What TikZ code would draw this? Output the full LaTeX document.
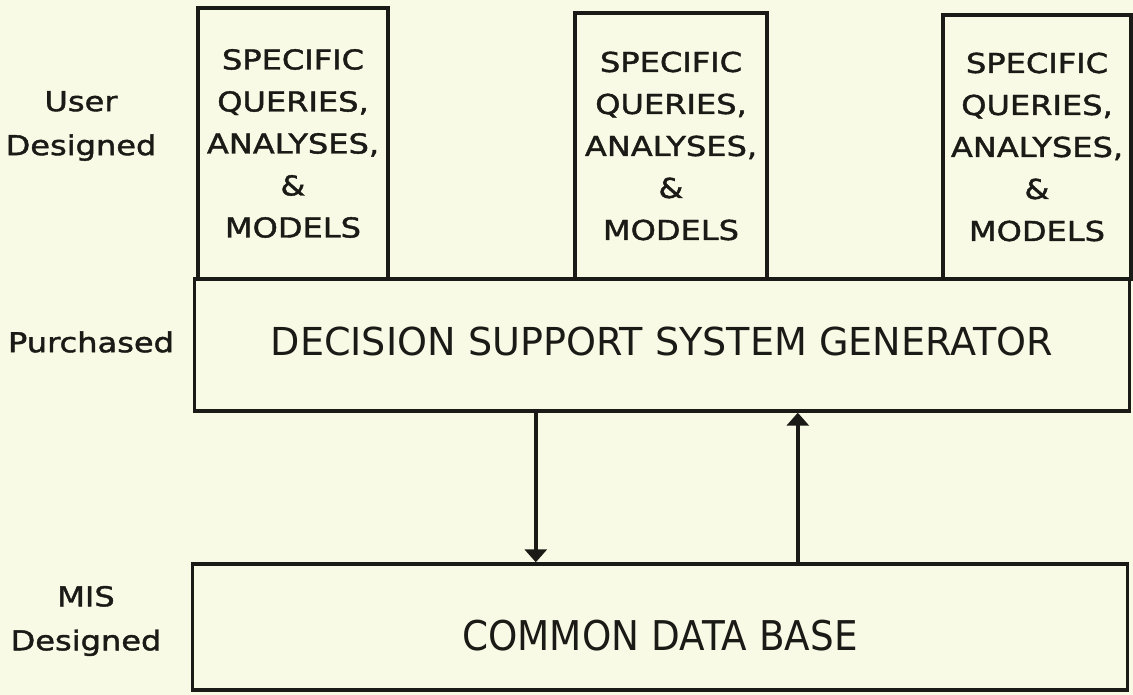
\documentclass[tikz,border=0pt]{standalone}
\usepackage{fontspec}
\usetikzlibrary{arrows.meta}
\newfontfamily\labelfont[FakeStretch=1.17,FakeBold=1.5]{DejaVu Sans}
\newfontfamily\dssfont[FakeStretch=0.99]{DejaVu Sans}
\newfontfamily\cdbfont[FakeStretch=0.91]{DejaVu Sans}
\definecolor{paper}{RGB}{249,250,229}
\definecolor{ink}{RGB}{26,26,22}
\begin{document}
\begin{tikzpicture}[x=1pt,y=-1pt,
  line width=3.4pt, draw=ink,
  small/.style={text=ink, font=\labelfont\fontsize{27.4}{44}\selectfont, align=center, inner sep=0pt},
  appbox/.style={draw=ink, line width=3.4pt, minimum width=190pt, inner sep=0pt,
    text=ink, font=\labelfont\fontsize{27.4}{42}\selectfont, align=center},
  layerbox/.style={draw=ink, line width=3.4pt, minimum width=935pt, inner sep=0pt, text=ink},
  flow/.style={ink, line width=3.4pt, -{Triangle[width=22pt,length=13pt]}}]
  % page
  \fill[paper] (0,0) rectangle (1133,695);
  \useasboundingbox (0,0) rectangle (1133,695);

  % layers
  \node[layerbox, minimum height=132pt, font=\dssfont\fontsize{38.5}{46}\selectfont,
        text height=28pt, text depth=8pt] (dss) at (662,345) {DECISION SUPPORT SYSTEM GENERATOR};
  \node[layerbox, minimum height=126pt, font=\cdbfont\fontsize{41}{48}\selectfont,
        text height=46pt, text depth=0pt] (cdb) at (660,627) {COMMON DATA BASE};

  % user-designed applications, all standing on the generator
  \node[appbox, minimum height=271pt] (app1) at (293,143.5) {SPECIFIC\\QUERIES,\\ANALYSES,\\\&\\MODELS};
  \node[appbox, minimum width=192pt, minimum height=266pt] (app2) at (671,146) {SPECIFIC\\QUERIES,\\ANALYSES,\\\&\\MODELS};
  \node[appbox, minimum width=188pt, minimum height=264pt] (app3) at (1037,147) {SPECIFIC\\QUERIES,\\ANALYSES,\\\&\\MODELS};

  % level labels
  \node[small] (lu) at (81,126) {User\\Designed};
  \node[small] (lp) at (91,342) {Purchased};
  \node[small] (lm) at (86,621) {MIS\\Designed};

  % data flow between generator and data base
  \path (dss.south west) ++(343,0) coordinate (fdown);
  \path (cdb.north west) ++(607,0) coordinate (fup);
  \draw[flow] (fdown) -- (fdown |- cdb.north);
  \draw[flow] (fup) -- (fup |- dss.south);
\end{tikzpicture}
\end{document}
